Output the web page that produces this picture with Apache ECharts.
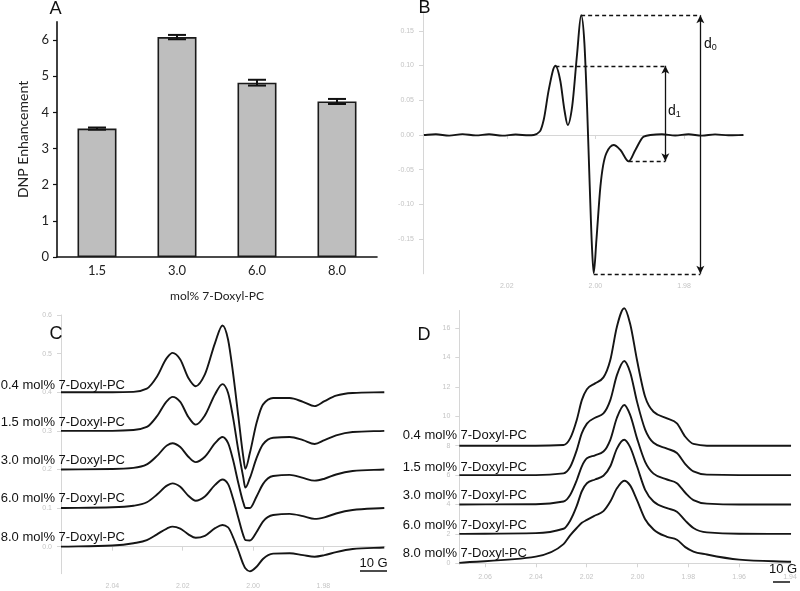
<!DOCTYPE html>
<html><head><meta charset="utf-8">
<script src="https://cdn.jsdelivr.net/npm/echarts@6/dist/echarts.min.js"></script>
<style>html,body{margin:0;padding:0;background:#fff}#c{width:800px;height:591px}</style>
</head><body><div id="c"></div>
<script>
// ---------- Panel A : DNP enhancement ----------
const aCats = ['1.5', '3.0', '6.0', '8.0'];
const aVals = [3.55, 6.08, 4.82, 4.30];
const aErrs = [0.03, 0.06, 0.08, 0.07];
const aTicks = [0, 1, 2, 3, 4, 5, 6];

// ---------- Panel B : 0.4 mol% EPR derivative spectrum ----------
const bG = [2.0387, 2.0360, 2.0330, 2.0300, 2.0270, 2.0240, 2.0210, 2.0180, 2.0150, 2.0139,
  2.01256, 2.01166, 2.01053, 2.00902, 2.00789, 2.00699, 2.00624, 2.00525, 2.00413, 2.00322,
  2.00248, 2.00188, 2.00128, 2.00075, 2.00038, 1.99977, 1.99887, 1.99752, 1.99587, 1.99436,
  1.99249, 1.99098, 1.98911, 1.9876, 1.9850, 1.9820, 1.9790, 1.9760, 1.9730, 1.9700, 1.9666];
const bV = [0, 0.001, -0.001, 0.0012, -0.0006, 0.001, -0.001, 0.0006, -0.0005, 0,
  0.005, 0.022, 0.065, 0.0997, 0.077, 0.036, 0.0144, 0.041, 0.117, 0.1725,
  0.132, 0.041, -0.074, -0.165, -0.199, -0.151, -0.074, -0.026, -0.0144, -0.0216,
  -0.038, -0.0216, -0.0024, 0, 0.001, -0.0008, 0.001, -0.001, 0.0008, -0.0005, 0];
const bTicksY = [-0.15, -0.10, -0.05, 0, 0.05, 0.10, 0.15];
const bTicksX = [1.98, 2.00, 2.02];
// dashed guide lines and double arrows [g1, v1, g2, v2]
const bDashes = [[2.00322, 0.1725, 1.97632, 0.1725], [2.00902, 0.0997, 1.98422, 0.0997],
  [1.99249, -0.038, 1.98422, -0.038], [2.00038, -0.2, 1.97632, -0.2]];
const bArrows = [[1.98422, 0.0997, 1.98422, -0.038], [1.97632, 0.1725, 1.97632, -0.2]];

// ---------- Panel C : derivative spectra, stacked ----------
const cNames = ['0.4 mol% 7-Doxyl-PC', '1.5 mol% 7-Doxyl-PC', '3.0 mol% 7-Doxyl-PC', '6.0 mol% 7-Doxyl-PC', '8.0 mol% 7-Doxyl-PC'];
const cOffsets = [0.4, 0.3, 0.2, 0.1, 0.0];
const cG = [2.0546, 2.040, 2.034, 2.0302, 2.0273, 2.0245, 2.0229, 2.0207, 2.0184, 2.0163,
  2.0137, 2.0108, 2.0087, 2.0071, 2.0057, 2.0042, 2.0028, 2.0022, 2.0009, 1.9990,
  1.9972, 1.9943, 1.9896, 1.9858, 1.9825, 1.9797, 1.9764, 1.9717, 1.9627];
const c04 = [0, 0, 0.001, 0.0095, 0.041, 0.089, 0.102, 0.085, 0.037, 0.0155,
  0.046, 0.128, 0.173, 0.136, 0.05, -0.062, -0.166, -0.198, -0.157, -0.079,
  -0.032, -0.015, -0.015, -0.025, -0.036, -0.023, -0.009, -0.002, 0];
const c15 = [0, 0, 0.002, 0.01, 0.038, 0.077, 0.088, 0.075, 0.036, 0.016,
  0.04, 0.095, 0.121, 0.098, 0.035, -0.05, -0.12, -0.147, -0.122, -0.07,
  -0.035, -0.018, -0.016, -0.024, -0.034, -0.024, -0.012, -0.003, 0];
const c30 = [0, 0.001, 0.004, 0.013, 0.035, 0.062, 0.068, 0.058, 0.033, 0.019,
  0.033, 0.068, 0.084, 0.068, 0.025, -0.035, -0.085, -0.1, -0.1, -0.07,
  -0.038, -0.017, -0.014, -0.022, -0.029, -0.024, -0.013, -0.004, 0];
const c60 = [0, 0.002, 0.006, 0.015, 0.035, 0.058, 0.064, 0.055, 0.032, 0.019,
  0.03, 0.06, 0.074, 0.062, 0.025, -0.025, -0.07, -0.083, -0.084, -0.062,
  -0.035, -0.018, -0.015, -0.021, -0.028, -0.024, -0.014, -0.005, 0];
const c80 = [0, 0.003, 0.009, 0.017, 0.032, 0.047, 0.052, 0.047, 0.032, 0.023,
  0.028, 0.048, 0.056, 0.05, 0.025, -0.01, -0.045, -0.056, -0.064, -0.052,
  -0.032, -0.018, -0.017, -0.022, -0.026, -0.022, -0.014, -0.006, -0.002];
const cTicksY = [0, 0.1, 0.2, 0.3, 0.4, 0.5, 0.6];
const cTicksX = [2.04, 2.02, 2.00, 1.98];

// ---------- Panel D : absorption spectra, stacked ----------
const dOffsets = [8, 6, 4, 2, 0];
const dG = [2.0701, 2.040, 2.0291, 2.0265, 2.0239, 2.0219, 2.0199, 2.0167, 2.0134, 2.0107,
  2.0081, 2.0052, 2.0029, 2.0002, 1.997, 1.9937, 1.9884, 1.9845, 1.9812, 1.978,
  1.9727, 1.960, 1.9396];
const d04 = [0, 0, 0.05, 0.5, 1.75, 3.1, 3.84, 4.24, 4.65, 5.83, 8.1, 9.35, 8.3, 5.83, 3.33, 2.31, 1.86, 1.52, 0.61, 0.12, 0, 0, 0];
const d15 = [0, 0, 0.12, 0.55, 1.7, 2.85, 3.5, 3.9, 4.2, 5.1, 6.8, 7.76, 7.0, 5.0, 3.1, 2.2, 1.8, 1.5, 0.75, 0.25, 0.03, 0, 0];
const d30 = [0, 0.02, 0.2, 0.65, 1.65, 2.6, 3.14, 3.35, 3.6, 4.4, 5.9, 6.77, 6.1, 4.5, 2.9, 2.1, 1.7, 1.45, 0.8, 0.3, 0.06, 0, 0];
const d60 = [0, 0.05, 0.35, 0.9, 1.9, 2.9, 3.45, 3.7, 3.95, 4.6, 5.8, 6.4, 5.9, 4.6, 3.0, 2.2, 1.75, 1.5, 0.9, 0.4, 0.1, 0.01, 0];
const d80 = [0.03, 0.45, 1.3, 1.9, 2.4, 2.75, 2.95, 3.25, 3.55, 4.2, 5.1, 5.62, 5.3, 4.3, 3.0, 2.3, 1.8, 1.6, 1.1, 0.8, 0.6, 0.25, 0.1];
const dTicksY = [0, 2, 4, 6, 8, 10, 12, 14, 16];
const dTicksX = [2.06, 2.04, 2.02, 2.00, 1.98, 1.96, 1.94];

// ---------- build ----------
const chart = echarts.init(document.getElementById('c'), null, {renderer: 'canvas'});
const FA = 'Lato, "Noto Sans", sans-serif';
const FL = '"Liberation Sans", Arial, sans-serif';
const faint = '#d6d6d6', faintTxt = '#c4c4c4';

function faintX(idx, min, max, ticks) {
  return {type: 'value', gridIndex: idx, min: min, max: max, inverse: true,
    axisLine: {show: true, lineStyle: {color: faint, width: 1}},
    axisTick: {show: true, length: 4, lineStyle: {color: faint}, customValues: ticks},
    axisLabel: {show: true, color: faintTxt, fontSize: 7, fontFamily: FL, margin: 9,
      customValues: ticks, formatter: v => v.toFixed(2)},
    splitLine: {show: false}};
}
function faintY(idx, min, max, ticks, dec) {
  return {type: 'value', gridIndex: idx, min: min, max: max,
    axisLine: {show: true, lineStyle: {color: faint, width: 1}},
    axisTick: {show: true, length: 4, lineStyle: {color: faint}, customValues: ticks},
    axisLabel: {show: true, color: faintTxt, fontSize: 7, fontFamily: FL, margin: 9,
      customValues: ticks, formatter: v => v.toFixed(dec)},
    splitLine: {show: false}};
}
// monotone-in-x cubic path through pixel points (rendering of the curve only)
function monoPath(p) {
  const n = p.length, s = [], m = [];
  for (let i = 0; i < n - 1; i++) s.push((p[i + 1][1] - p[i][1]) / (p[i + 1][0] - p[i][0]));
  for (let i = 0; i < n; i++) {
    if (i === 0) { m.push(s[0]); continue; }
    if (i === n - 1) { m.push(s[n - 2]); continue; }
    const h0 = p[i][0] - p[i - 1][0], h1 = p[i + 1][0] - p[i][0];
    const s0 = s[i - 1], s1 = s[i], q = (s0 * h1 + s1 * h0) / (h0 + h1);
    m.push((Math.sign(s0) + Math.sign(s1)) * Math.min(Math.abs(s0), Math.abs(s1), 0.5 * Math.abs(q)) || 0);
  }
  let d = 'M' + p[0][0] + ' ' + p[0][1];
  for (let i = 0; i < n - 1; i++) {
    const h = (p[i + 1][0] - p[i][0]) / 3;
    d += ' C' + (p[i][0] + h) + ' ' + (p[i][1] + m[i] * h) + ' ' + (p[i + 1][0] - h) + ' ' +
      (p[i + 1][1] - m[i + 1] * h) + ' ' + p[i + 1][0] + ' ' + p[i + 1][1];
  }
  return d;
}
function curve(xi, g, vals, off) {
  const pts = g.map((x, i) => [x, vals[i] + off]);
  return {type: 'custom', xAxisIndex: xi, yAxisIndex: xi, z: 5, clip: false,
    data: pts,
    renderItem: function (params, api) {
      if (params.dataIndex !== 0) return null;
      const px = pts.map(q => api.coord(q));
      return {type: 'path', shape: {pathData: monoPath(px)},
        style: {stroke: '#151515', lineWidth: 1.9, fill: null}};
    }};
}

const cSeries = [c04, c15, c30, c60, c80];
const dSeries = [d04, d15, d30, d60, d80];

const series = [
  {type: 'bar', xAxisIndex: 0, yAxisIndex: 0, data: aVals, barWidth: 39,
   itemStyle: {color: '#bebebe', borderColor: '#1a1a1a', borderWidth: 1.6}},
  {type: 'custom', xAxisIndex: 0, yAxisIndex: 0, z: 10,
   data: aVals.map((v, i) => [i, v, aErrs[i]]),
   renderItem: function (params, api) {
     const i = api.value(0), v = api.value(1), e = api.value(2);
     const t = api.coord([i, v + e]), b = api.coord([i, v - e]);
     const hw = 9, st = {stroke: '#111', lineWidth: 2};
     return {type: 'group', children: [
       {type: 'line', shape: {x1: t[0], y1: t[1], x2: b[0], y2: b[1]}, style: st},
       {type: 'line', shape: {x1: t[0] - hw, y1: t[1], x2: t[0] + hw, y2: t[1]}, style: st},
       {type: 'line', shape: {x1: b[0] - hw, y1: b[1], x2: b[0] + hw, y2: b[1]}, style: st}
     ]};
   }},
  curve(1, bG, bV, 0),
  {type: 'line', xAxisIndex: 1, yAxisIndex: 1, data: [], symbol: 'none',
    markLine: {silent: true, symbol: 'none', animation: false, label: {show: false},
      lineStyle: {color: '#111', width: 1.4, type: [4, 3]},
      data: bDashes.map(d => [{coord: [d[0], d[1]]}, {coord: [d[2], d[3]]}])}},
  {type: 'line', xAxisIndex: 1, yAxisIndex: 1, data: [], symbol: 'none',
    markLine: {silent: true, symbol: ['arrow', 'arrow'], symbolSize: [6, 8], animation: false,
      label: {show: false}, lineStyle: {color: '#111', width: 1.3, type: 'solid'},
      data: bArrows.map(d => [{coord: [d[0], d[1]]}, {coord: [d[2], d[3]]}])}}
];
cSeries.forEach((s, k) => series.push(curve(2, cG, s, cOffsets[k])));
dSeries.forEach((s, k) => series.push(curve(3, dG, s, dOffsets[k])));

const cLabelY = [385, 422.7, 460.3, 498.3, 537];
const dLabelY = [435, 467, 495.3, 525, 553.7];
const graphics = [];
function txt(x, y, s, size, align, font) {
  graphics.push({type: 'text', x: x, y: y, z: 100,
    style: {text: s, fill: '#111', font: size + 'px ' + (font || FL), textAlign: align || 'center', textVerticalAlign: 'middle'}});
}
txt(55.5, 8, 'A', 18, 'center', FA);
txt(424.5, 8, 'B', 18, 'center', FL);
txt(56, 334, 'C', 18, 'center', FL);
txt(424, 335, 'D', 18, 'center', FL);
cNames.forEach((n, k) => { txt(125, cLabelY[k], n, 13, 'right'); txt(527, dLabelY[k], n, 13, 'right'); });
// d0 / d1 labels
graphics.push({type: 'text', x: 704, y: 44, z: 100, style: {text: '{m|d}{s|0}', textVerticalAlign: 'middle',
  rich: {m: {fontSize: 14, fontFamily: FL, fill: '#111'}, s: {fontSize: 9, fontFamily: FL, fill: '#111', padding: [8, 0, 0, 0]}}}});
graphics.push({type: 'text', x: 668, y: 111, z: 100, style: {text: '{m|d}{s|1}', textVerticalAlign: 'middle',
  rich: {m: {fontSize: 14, fontFamily: FL, fill: '#111'}, s: {fontSize: 9, fontFamily: FL, fill: '#111', padding: [8, 0, 0, 0]}}}});
// 10 G scale markers
txt(373.5, 563.5, '10 G', 13, 'center');
graphics.push({type: 'line', z: 100, shape: {x1: 360, y1: 571, x2: 387, y2: 571}, style: {stroke: '#111', lineWidth: 1.5}});
txt(783, 569, '10 G', 13, 'center');
graphics.push({type: 'line', z: 100, shape: {x1: 773, y1: 582, x2: 790, y2: 582}, style: {stroke: '#111', lineWidth: 1.5}});

chart.setOption({
  animation: false,
  backgroundColor: '#fff',
  grid: [
    {left: 57, top: 21.9, width: 320, height: 235.1},
    {left: 423, top: 13.5, width: 320, height: 260.3},
    {left: 61, top: 315, width: 324, height: 258.7},
    {left: 459.3, top: 310.5, width: 332, height: 253.8}
  ],
  xAxis: [
    {type: 'category', gridIndex: 0, data: aCats,
     axisLine: {lineStyle: {color: '#111', width: 1.6}}, axisTick: {show: false},
     axisLabel: {color: '#222', fontSize: 13, fontFamily: FA, margin: 7},
     name: 'mol% 7-Doxyl-PC', nameLocation: 'middle', nameGap: 33,
     nameTextStyle: {color: '#222', fontSize: 12, fontFamily: FA, verticalAlign: 'top'}},
    faintX(1, 1.9667, 2.0389, bTicksX),
    faintX(2, 1.9625, 2.0546, cTicksX),
    faintX(3, 1.9395, 2.0701, dTicksX)
  ],
  yAxis: [
    {type: 'value', gridIndex: 0, min: 0, max: 6.5,
     axisLine: {show: true, lineStyle: {color: '#111', width: 1.6}},
     axisTick: {show: true, length: 4, lineStyle: {color: '#111', width: 1.2}, customValues: aTicks},
     axisLabel: {color: '#222', fontSize: 13, fontFamily: FA, margin: 8, customValues: aTicks},
     splitLine: {show: false},
     name: 'DNP Enhancement', nameLocation: 'middle', nameGap: 27,
     nameTextStyle: {color: '#222', fontSize: 14, fontFamily: FA}},
    faintY(1, -0.2, 0.175, bTicksY, 2),
    faintY(2, -0.07, 0.6, cTicksY, 1),
    faintY(3, -0.07, 17.2, dTicksY, 0)
  ],
  series: series,
  graphic: graphics
});
</script></body></html>
